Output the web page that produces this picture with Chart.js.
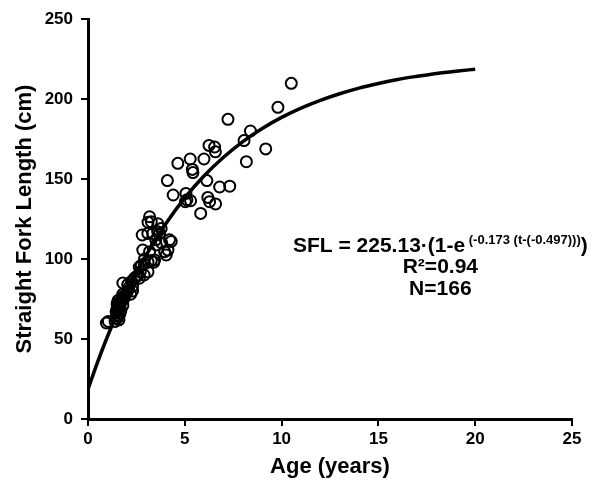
<!DOCTYPE html>
<html>
<head>
<meta charset="utf-8">
<script src="https://cdn.jsdelivr.net/npm/chart.js@4/dist/chart.umd.min.js"></script>
<style>
html,body{margin:0;padding:0;background:#fff;}
#wrap{width:599px;height:480px;}
</style>
</head>
<body>
<div id="wrap"><canvas id="c" width="599" height="480"></canvas></div>
<script>
// Observed ages (years) and straight fork lengths (cm)
const ageObs = [0.95,1.05,1.4,1.45,1.5,1.45,1.5,1.55,1.6,1.6,1.65,1.55,1.6,1.65,1.7,1.75,1.8,1.85,1.5,1.55,1.7,1.75,1.8,1.9,2.0,2.05,2.1,2.2,2.3,1.8,2.05,2.25,2.4,2.5,2.3,2.6,2.7,2.75,2.65,2.9,3.1,3.4,3.1,2.9,2.65,
  2.83,2.92,3.27,3.18,3.44,3.53,3.96,4.04,4.13,4.3,4.21,3.7,3.35,2.8,3.09,3.6,3.1,3.18,3.27,3.61,3.78,3.8,3.5,
  4.1,4.4,4.64,5.06,5.11,5.3,5.03,5.28,5.39,5.42,5.82,5.99,6.14,6.19,6.28,6.59,6.25,6.54,6.58,6.8,7.32,7.23,8.06,8.39,8.18,9.18,9.81,10.5];
const sflObs = [60,61,61,63,65,67,69,71,62,64,66,68,70,72,73,74,71,75,72,74,68,76,78,77,79,80,82,78,80,85,84,86,88,89,83,90,92,96,95,97,98,98,92,90,88,
  105.6,100,99,104.6,99.4,108.8,104.6,102.5,105.6,111,112,116,116,115,116,117,123,126.4,123.3,122,119,110,112,
  149,140,159.8,141,137,136.4,135.8,162.5,156,154,128.5,162.5,149,138.5,135.8,134.4,171,170,167,145,145.5,187.3,174,180,160.8,168.8,194.8,209.8];
// Fitted growth curve
const curveAge = [0,0.5,1,1.5,2,3,4,5,6,7,8,9,10,11,12,13,14,15,16,17,18,19,20];
const curveSfl = [18.6,35.7,51.4,65.8,79.0,102.2,121.7,138.2,152.0,163.6,173.4,181.6,188.5,194.3,199.2,203.3,206.8,209.7,212.2,214.2,216.0,217.4,218.6];
// Axis ticks
const xTicks = [0,5,10,15,20,25];
const yTicks = [0,50,100,150,200,250];

const pts = ageObs.map((a,i)=>({x:a,y:sflObs[i]}));
const curve = curveAge.map((a,i)=>({x:a,y:curveSfl[i]}));

const FONT = "'Liberation Sans', Arial, sans-serif";

const annot = {
  id:'annot',
  afterDatasetsDraw(chart){
    const ctx = chart.ctx;
    const xs = chart.scales.x, ys = chart.scales.y;
    ctx.save();
    ctx.fillStyle = '#000';
    ctx.textBaseline = 'alphabetic';
    const main1 = 'SFL = 225.13\u00b7(1-e';
    const sup = ' (-0.173 (t-(-0.497)))';
    const close = ')';
    const bigF = 'bold 21px ' + FONT, smallF = 'bold 13px ' + FONT;
    ctx.font = bigF; const w1 = ctx.measureText(main1).width; const w3 = ctx.measureText(close).width;
    ctx.font = smallF; const w2 = ctx.measureText(sup).width;
    const total = w1 + w2 + w3;
    const cx = xs.getPixelForValue(18.2);
    const x0 = cx - total/2;
    const y1 = ys.getPixelForValue(104.4);
    ctx.textAlign = 'left';
    ctx.font = bigF; ctx.fillText(main1, x0, y1);
    ctx.font = smallF; ctx.fillText(sup, x0 + w1, y1 - 8);
    ctx.font = bigF; ctx.fillText(close, x0 + w1 + w2, y1);
    ctx.textAlign = 'center';
    ctx.fillText('R\u00b2=0.94', cx, ys.getPixelForValue(91.2));
    ctx.fillText('N=166', cx, ys.getPixelForValue(77.5));
    ctx.restore();
  }
};

new Chart(document.getElementById('c'), {
  type:'scatter',
  data:{
    datasets:[
      {
        label:'Observed',
        data: pts,
        showLine:false,
        pointStyle:'circle',
        pointRadius:5.5,
        pointBorderWidth:2,
        pointBorderColor:'#000',
        pointBackgroundColor:'rgba(0,0,0,0)',
        order:2
      },
      {
        label:'Fit',
        data: curve,
        showLine:true,
        borderColor:'#000',
        borderWidth:3.5,
        pointRadius:0,
        cubicInterpolationMode:'monotone',
        fill:false,
        order:1
      }
    ]
  },
  options:{
    responsive:false,
    animation:false,
    devicePixelRatio:1,
    layout:{padding:{top:19,right:27,left:0,bottom:0}},
    plugins:{legend:{display:false},tooltip:{enabled:false}},
    scales:{
      x:{
        type:'linear', min:0, max:25,
        afterBuildTicks(s){ s.ticks = xTicks.map(v=>({value:v})); },
        afterFit(s){ s.height = 61; },
        ticks:{color:'#000', font:{family:FONT, size:17, weight:'bold'}, padding:3, maxRotation:0},
        grid:{drawOnChartArea:false, drawTicks:true, tickLength:7, color:'#000', lineWidth:2},
        border:{color:'#000', width:3},
        title:{display:true, text:'Age (years)', color:'#000', font:{family:FONT, size:22, weight:'bold'}, padding:{top:0,bottom:0}}
      },
      y:{
        type:'linear', min:0, max:250,
        afterBuildTicks(s){ s.ticks = yTicks.map(v=>({value:v})); },
        afterFit(s){ s.width = 88; },
        ticks:{color:'#000', font:{family:FONT, size:17, weight:'bold'}, padding:8},
        grid:{drawOnChartArea:false, drawTicks:true, tickLength:7, color:'#000', lineWidth:2},
        border:{color:'#000', width:3},
        title:{display:true, text:'Straight Fork Length (cm)', color:'#000', font:{family:FONT, size:22, weight:'bold'}, padding:{top:12,bottom:0}}
      }
    }
  },
  plugins:[annot]
});
</script>
</body>
</html>
